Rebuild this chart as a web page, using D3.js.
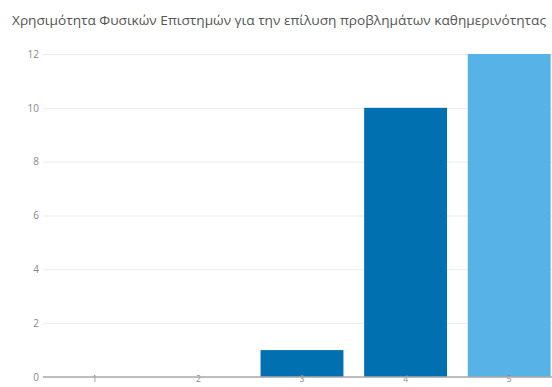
<!DOCTYPE html>
<html lang="el">
<head>
    <meta charset="UTF-8">
    <title>Χρησιμότητα Φυσικών Επιστημών</title>
    <script src="https://cdn.jsdelivr.net/npm/d3@7/dist/d3.min.js"></script>
    <style>
        body { margin: 0; background: #fff; }
        svg { display: block; font-family: "Open Sans", sans-serif; }
    </style>
</head>
<body>
<div id="chart"></div>
<script>
    var title = "Χρησιμότητα Φυσικών Επιστημών για την επίλυση προβλημάτων καθημερινότητας";
    var categories = ["1", "2", "3", "4", "5"];
    var counts = [0, 0, 1, 10, 12];
    var barColors = ["#0070b0", "#0070b0", "#0070b0", "#0070b0", "#57b3e7"];
    var yTicks = [0, 2, 4, 6, 8, 10, 12];

    var width = 552;
    var height = 387;
    var padding = {left: 43, right: -9, top: 54, bottom: 10};

    var svg = d3.select("#chart")
            .append("svg")
            .attr("width", width)
            .attr("height", height);

    // title, fitted to the reference width
    svg.append("text")
            .attr("x", 12)
            .attr("y", 25)
            .attr("fill", "#555")
            .attr("textLength", 534)
            .attr("lengthAdjust", "spacingAndGlyphs")
            .style("font-size", "13px")
            .text(title);

    var xScale = d3.scaleBand()
            .domain(categories)
            .range([padding.left, width - padding.right])
            .paddingInner(0.2)
            .paddingOuter(0.1);

    var yScale = d3.scaleLinear()
            .domain([0, 12])
            .range([height - padding.bottom, padding.top]);

    // gridlines + y labels
    var yAxis = d3.axisLeft(yScale)
            .tickValues(yTicks)
            .tickSize(-(width - padding.right - padding.left))
            .tickPadding(4);

    var gy = svg.append("g")
            .attr("transform", "translate(" + padding.left + ",0)")
            .call(yAxis);
    gy.select(".domain").remove();
    gy.selectAll(".tick line").attr("stroke", "#ebebeb");
    gy.selectAll(".tick text")
            .attr("fill", "#888")
            .style("font-size", "10px")
            .style("font-family", "'Open Sans', sans-serif");

    // bars
    svg.selectAll("rect.bar")
            .data(counts)
            .enter()
            .append("rect")
            .attr("class", "bar")
            .attr("x", function (d, i) { return xScale(categories[i]); })
            .attr("y", function (d) { return yScale(d); })
            .attr("width", xScale.bandwidth())
            .attr("height", function (d) { return yScale(0) - yScale(d); })
            .attr("fill", function (d, i) { return barColors[i]; });

    // x axis
    var xAxis = d3.axisBottom(xScale)
            .tickSize(0)
            .tickPadding(0);

    var gx = svg.append("g")
            .attr("transform", "translate(0," + yScale(0) + ")")
            .call(xAxis);
    gx.select(".domain").remove();
    gx.selectAll(".tick text")
            .attr("fill", "#888")
            .attr("dy", "0.6em")
            .style("font-size", "8.5px")
            .style("font-family", "'Open Sans', sans-serif");

    svg.append("line")
            .attr("x1", padding.left)
            .attr("x2", width - padding.right)
            .attr("y1", yScale(0))
            .attr("y2", yScale(0))
            .attr("stroke", "#aaa")
            .attr("stroke-width", 1.5);
</script>
</body>
</html>
